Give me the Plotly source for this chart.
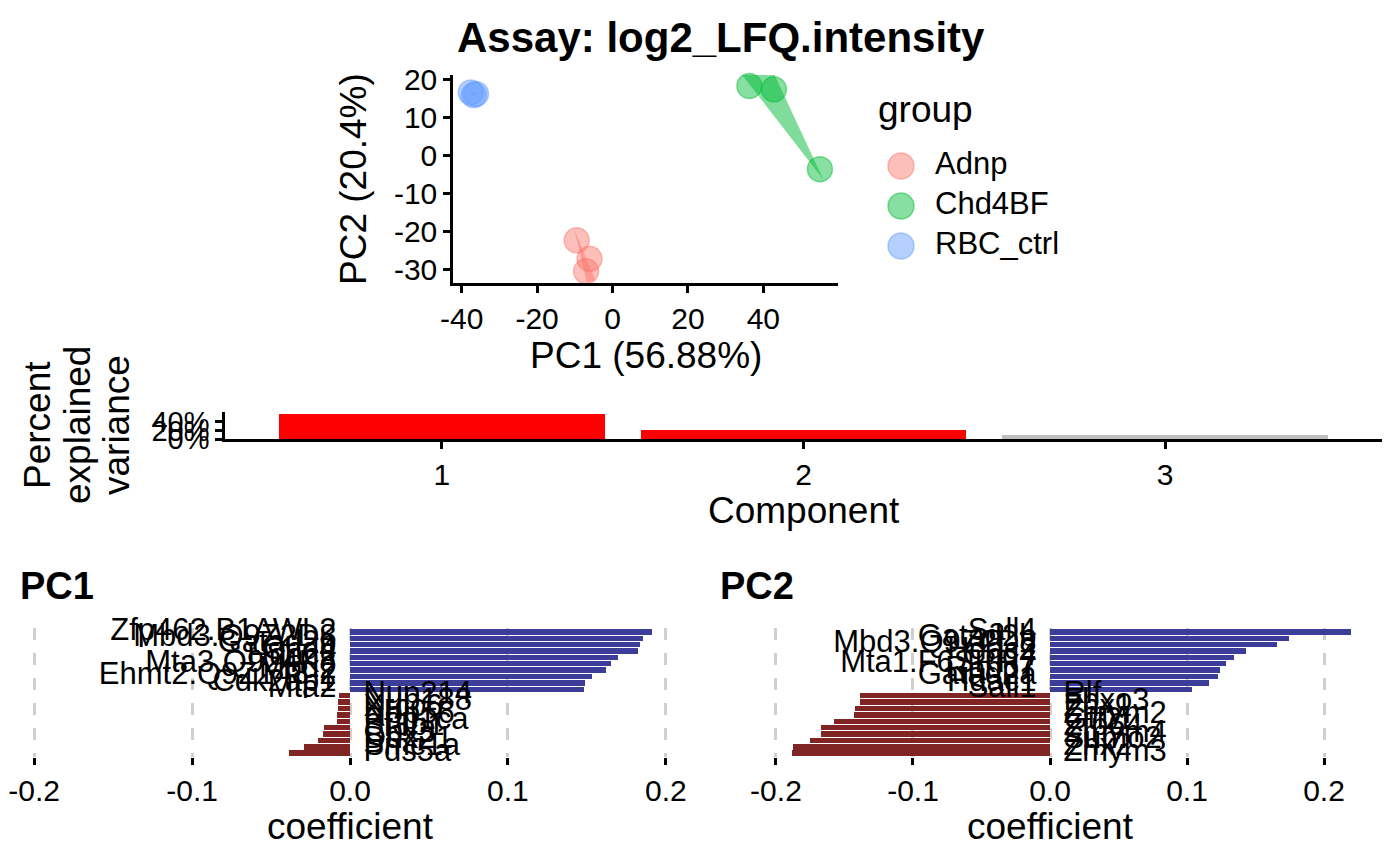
import plotly.graph_objects as go

W, H = 1400, 866
FONT = "Liberation Sans"

# ---------------- data ----------------
groups = ["Adnp", "Chd4BF", "RBC_ctrl"]
adnp_pc1 = [-9.5, -6.1, -7.0]
adnp_pc2 = [-22.4, -27.3, -30.6]
chd4bf_pc1 = [36.3, 42.8, 55.0]
chd4bf_pc2 = [18.4, 17.5, -3.6]
rbc_pc1 = [-37.6, -36.2, -36.8]
rbc_pc2 = [16.7, 16.3, 16.0]

# hull outlines as they appear in the reference
adnp_hull_pc1 = [-10.1, -4.6, -6.8]
adnp_hull_pc2 = [-19.6, -32.9, -33.5]
chd4bf_hull_pc1 = [34.4, 43.0, 55.9]
chd4bf_hull_pc2 = [21.3, 21.3, -6.3]
rbc_hull_pc1 = [-37.7, -36.1, -36.9]
rbc_hull_pc2 = [16.9, 16.4, 15.8]

scatter_x_ticks = [-40, -20, 0, 20, 40]
scatter_y_ticks = [-30, -20, -10, 0, 10, 20]
pc1_axis_label = "PC1 (56.88%)"
pc2_axis_label = "PC2 (20.4%)"

components = [1, 2, 3]
variance_pct = [56.88, 20.4, 10.5]
variance_ticks = [0, 20, 40]

pc1_genes = ["Zfp462.B1AWL2", "Mbd3.Q9Z2D8", "Gatad2b", "Chd4", "Hdac2",
             "Mta3.Q924K8", "Mbd2", "Ehmt2.Q9Z148-2", "Cdk2ap1", "Mta2",
             "Nup214", "Nup188", "Xrcc6", "Nop56", "Ppp1ca",
             "Sf3b1", "Cbx3", "Ddx21", "Smc1a", "Pds5a"]
pc1_coef = [0.191, 0.1856, 0.1836, 0.1824, 0.170, 0.165, 0.162, 0.153, 0.1487, 0.148,
            -0.0071, -0.0074, -0.0074, -0.0085, -0.0085, -0.0164, -0.017, -0.020, -0.029, -0.0385]

pc2_genes = ["Sall4", "Gatad2b", "Mbd3.Q9Z2D8", "Hdac2", "Chd4",
             "Mta1.F6SRR7", "Rbbp7", "Gatad2a", "Hdac1", "Sall1",
             "Rlf", "Fbxo3", "Zhx1", "Zmym2", "Gtf2i",
             "Zfp64", "Zmym4", "Sumo2", "Zhx2", "Zmym3"]
pc2_coef = [0.2199, 0.1746, 0.1658, 0.1427, 0.134, 0.1287, 0.1244, 0.1228, 0.1163, 0.1039,
            -0.1384, -0.1388, -0.142, -0.1433, -0.158, -0.1668, -0.1668, -0.175, -0.1873, -0.188]

coef_ticks = [-0.2, -0.1, 0.0, 0.1, 0.2]
coef_tick_text = ["-0.2", "-0.1", "0.0", "0.1", "0.2"]

# ---------------- helpers ----------------
def px(x):
    return x / W

def py(y):
    return 1 - y / H

rgb = {"Adnp": (248, 118, 109), "Chd4BF": (0, 186, 56), "RBC_ctrl": (97, 156, 255)}
def rgba(g, a):
    r, gg, b = rgb[g]
    return f"rgba({r},{gg},{b},{a})"

score_x = {"Adnp": adnp_pc1, "Chd4BF": chd4bf_pc1, "RBC_ctrl": rbc_pc1}
score_y = {"Adnp": adnp_pc2, "Chd4BF": chd4bf_pc2, "RBC_ctrl": rbc_pc2}
hull_x = {"Adnp": adnp_hull_pc1, "Chd4BF": chd4bf_hull_pc1, "RBC_ctrl": rbc_hull_pc1}
hull_y = {"Adnp": adnp_hull_pc2, "Chd4BF": chd4bf_hull_pc2, "RBC_ctrl": rbc_hull_pc2}

fig = go.Figure()

# ---------------- PCA scatter ----------------
for g in groups:
    hx = hull_x[g] + hull_x[g][:1]
    hy = hull_y[g] + hull_y[g][:1]
    fig.add_trace(go.Scatter(x=hx, y=hy, mode="lines", fill="toself",
                             fillcolor=rgba(g, 0.5), line=dict(width=0),
                             xaxis="x", yaxis="y", hoverinfo="skip"))
for g in groups:
    fig.add_trace(go.Scatter(x=score_x[g], y=score_y[g], mode="markers",
                             marker=dict(size=25, color=rgba(g, 0.47),
                                         line=dict(width=1.5, color=rgba(g, 0.47))),
                             xaxis="x", yaxis="y", name=g, cliponaxis=False))

# legend (drawn on its own hidden axis)
fig.add_trace(go.Scatter(x=[0] * len(groups), y=list(range(len(groups))), mode="markers",
                         marker=dict(size=26, color=[rgba(g, 0.47) for g in groups],
                                     line=dict(width=1.5, color=[rgba(g, 0.47) for g in groups])),
                         xaxis="x5", yaxis="y5", hoverinfo="skip", cliponaxis=False))
fig.add_trace(go.Scatter(x=[34] * len(groups), y=list(range(len(groups))), mode="text",
                         text=groups, textposition="middle right",
                         textfont=dict(size=31, color="black", family=FONT),
                         xaxis="x5", yaxis="y5", hoverinfo="skip", cliponaxis=False))

# ---------------- explained variance ----------------
var_colors = ["#FF0000", "#FF0000", "#BEBEBE"]
fig.add_trace(go.Bar(x=components, y=variance_pct, width=0.9,
                     marker=dict(color=var_colors, line=dict(width=0)),
                     xaxis="x2", yaxis="y2"))

# ---------------- loadings ----------------
POS = "#3B3D98"
NEG = "#812424"
LABEL_SIZE = 31
for genes, coef, xa, ya, off in [(pc1_genes, pc1_coef, "x3", "y3", 0.0085),
                                 (pc2_genes, pc2_coef, "x4", "y4", 0.0098)]:
    fig.add_trace(go.Bar(x=coef, y=genes, orientation="h", width=0.85,
                         marker=dict(color=[POS if c > 0 else NEG for c in coef], line=dict(width=0)),
                         xaxis=xa, yaxis=ya))
    pos_g = [g for g, c in zip(genes, coef) if c > 0]
    neg_g = [g for g, c in zip(genes, coef) if c <= 0]
    fig.add_trace(go.Scatter(x=[-off] * len(pos_g), y=pos_g, mode="text", text=pos_g,
                             textposition="middle left",
                             textfont=dict(size=LABEL_SIZE, color="black", family=FONT),
                             xaxis=xa, yaxis=ya, cliponaxis=False))
    fig.add_trace(go.Scatter(x=[off] * len(neg_g), y=neg_g, mode="text", text=neg_g,
                             textposition="middle right",
                             textfont=dict(size=LABEL_SIZE, color="black", family=FONT),
                             xaxis=xa, yaxis=ya, cliponaxis=False))

# ---------------- axes ----------------
tickfont = dict(size=30, color="black", family=FONT)
line_style = dict(showline=True, linecolor="black", linewidth=2.5, ticks="outside",
                  ticklen=7, tickwidth=2.5, tickcolor="black", showgrid=False, zeroline=False,
                  automargin=False, tickfont=tickfont)

layout_axes = dict(
    xaxis=dict(domain=[px(453), px(838)], range=[-42.3, 59.8], anchor="y",
               tickmode="array", tickvals=scatter_x_ticks, ticktext=[str(v) for v in scatter_x_ticks],
               **line_style),
    yaxis=dict(domain=[py(283), py(75)], range=[-33.7, 21.3], anchor="x",
               tickmode="array", tickvals=scatter_y_ticks, ticktext=[str(v) for v in scatter_y_ticks],
               **line_style),
    xaxis2=dict(domain=[px(225), px(1382)], range=[0.4, 3.6], anchor="y2",
                tickmode="array", tickvals=components, ticktext=[str(c) for c in components],
                **line_style),
    yaxis2=dict(domain=[py(439.3), py(412)], range=[0, 61.3], anchor="x2",
                tickmode="array", tickvals=variance_ticks, ticktext=[f"{v}%" for v in variance_ticks],
                **{**line_style, "tickfont": dict(size=29, color="black", family=FONT)}),
    xaxis5=dict(domain=[px(880), px(1100)], range=[-21, 199], anchor="y5", visible=False,
                automargin=False),
    yaxis5=dict(domain=[py(266), py(146)], range=[2.5, -0.5], anchor="x5", visible=False,
                automargin=False),
)
for i, (dom, rng) in enumerate([([px(10), px(690)], [-0.2153, 0.2153]),
                                ([px(718), px(1382)], [-0.2423, 0.2423])]):
    n = 3 + i
    layout_axes[f"xaxis{n}"] = dict(domain=dom, range=rng, anchor=f"y{n}",
                                    tickmode="array", tickvals=coef_ticks, ticktext=coef_tick_text,
                                    showline=False, zeroline=False, ticks="outside", ticklen=7,
                                    tickwidth=2.5, tickcolor="black", automargin=False,
                                    showgrid=True, gridcolor="#CFCFCF", gridwidth=2.5,
                                    griddash="12px,13px", tickfont=tickfont)
    layout_axes[f"yaxis{n}"] = dict(domain=[py(757), py(628)], range=[19.6, -0.6],
                                    anchor=f"x{n}", type="category", automargin=False,
                                    showticklabels=False, showline=False, showgrid=False,
                                    zeroline=False, ticks="")

# ---------------- text ----------------
ann = []
def add_text(text, x, y, size, bold=False, angle=0, xanchor="center"):
    ann.append(dict(text=f"<b>{text}</b>" if bold else text, x=px(x), y=py(y),
                    xref="paper", yref="paper", showarrow=False, textangle=angle,
                    xanchor=xanchor, yanchor="middle",
                    font=dict(size=size, color="black", family=FONT)))

add_text("Assay: log2_LFQ.intensity", 721, 37, 42, bold=True)
add_text(pc1_axis_label, 645.5, 355, 37)
add_text(pc2_axis_label, 353, 179, 37, angle=-90)
add_text("group", 876, 110, 37, xanchor="left")
add_text("Percent", 37, 425, 37, angle=-90)
add_text("explained", 77, 425, 37, angle=-90)
add_text("variance", 116, 425, 37, angle=-90)
add_text("Component", 803.5, 510, 37)
add_text("PC1", 18, 586, 38, bold=True, xanchor="left")
add_text("PC2", 718, 586, 38, bold=True, xanchor="left")
add_text("coefficient", 350, 826, 37)
add_text("coefficient", 1050, 826, 37)

fig.update_layout(template="none", width=W, height=H, margin=dict(l=0, r=0, t=0, b=0, autoexpand=False),
                  paper_bgcolor="white", plot_bgcolor="white", showlegend=False,
                  font=dict(family=FONT, color="black"), annotations=ann,
                  bargap=0, **layout_axes)

fig.write_html("out.html")
